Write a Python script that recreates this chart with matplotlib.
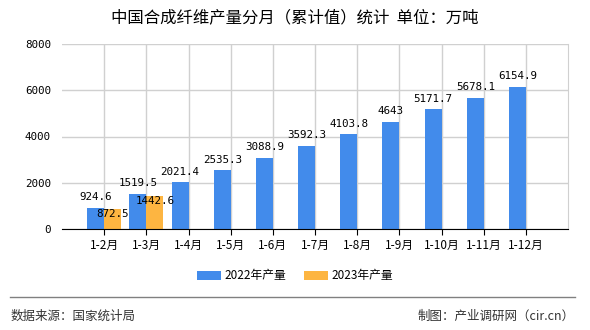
import matplotlib.pyplot as plt
import numpy as np

plt.rcParams['font.family'] = ['Noto Sans CJK SC', 'DejaVu Sans']
mono = ['DejaVu Sans Mono', 'Noto Sans CJK SC']

months = ['1-2月', '1-3月', '1-4月', '1-5月', '1-6月', '1-7月', '1-8月',
          '1-9月', '1-10月', '1-11月', '1-12月']
vals_2022 = [924.6, 1519.5, 2021.4, 2535.3, 3088.9, 3592.3, 4103.8,
             4643, 5171.7, 5678.1, 6154.9]
vals_2023 = [872.5, 1442.6]
labels_2022 = ['924.6', '1519.5', '2021.4', '2535.3', '3088.9', '3592.3',
               '4103.8', '4643', '5171.7', '5678.1', '6154.9']
labels_2023 = ['872.5', '1442.6']

blue = '#428BEB'
orange = '#FDB541'

fig = plt.figure(figsize=(5.9, 3.3), dpi=100)
ax = fig.add_axes([62 / 590, 1 - 229 / 330, (568 - 62) / 590, (229 - 44) / 330])

x = np.arange(len(months))
w = 0.4
b1 = ax.bar(x - w / 2, vals_2022, w, color=blue, label='2022年产量', zorder=2)
x2 = np.arange(len(vals_2023))
b2 = ax.bar(x2 + w / 2, vals_2023, w, color=orange, label='2023年产量', zorder=2)

for xi, v, t in zip(x, vals_2022, labels_2022):
    ax.annotate(t, (xi - w / 2, v), xytext=(0, 4), textcoords='offset points',
                ha='center', va='bottom', fontsize=7.8, family=mono, zorder=3)
for xi, v, t in zip(x2, vals_2023, labels_2023):
    ax.annotate(t, (xi + w / 2, v), xytext=(0, 0), textcoords='offset points',
                ha='center', va='top', fontsize=7.8, family=mono, zorder=3)

ax.set_xlim(-1, 11)
ax.set_ylim(0, 8000)
ax.set_yticks([0, 2000, 4000, 6000, 8000])
ax.set_xticks(x)
ax.set_xticklabels(months, fontsize=8.5)
for lab in ax.get_yticklabels():
    lab.set_family(mono)
ax.tick_params(axis='y', length=0, labelsize=7.8, pad=8)
ax.tick_params(axis='x', length=4, labelsize=8.5, color='black')
ax.grid(True, color='#D0D0D0', linewidth=1, zorder=0)
ax.set_axisbelow(True)
for s in ['top', 'left']:
    ax.spines[s].set_visible(False)
ax.spines['right'].set_color('#D0D0D0')
ax.spines['bottom'].set_color('black')

fig.text(0.5, 1 - 18 / 330, '中国合成纤维产量分月（累计值）统计  单位：万吨',
         ha='center', va='center', fontsize=11.8)

fig.legend(handles=[b1, b2], loc='center', bbox_to_anchor=(0.5, 1 - 276 / 330),
           ncol=2, frameon=False, fontsize=8.5, handlelength=2, handleheight=0.7,
           handletextpad=0.3, columnspacing=1.5)

fig.add_artist(plt.Line2D([10 / 590, 575 / 590], [1 - 297 / 330, 1 - 297 / 330],
                          color='#808080', linewidth=1))
fig.text(11 / 590, 1 - 316 / 330, '数据来源：国家统计局', ha='left', va='center',
         fontsize=9, color='#333333')
fig.text(575 / 590, 1 - 316 / 330, '制图：产业调研网（cir.cn）', ha='right',
         va='center', fontsize=9, color='#333333')

fig.savefig('out.png', dpi=100)
